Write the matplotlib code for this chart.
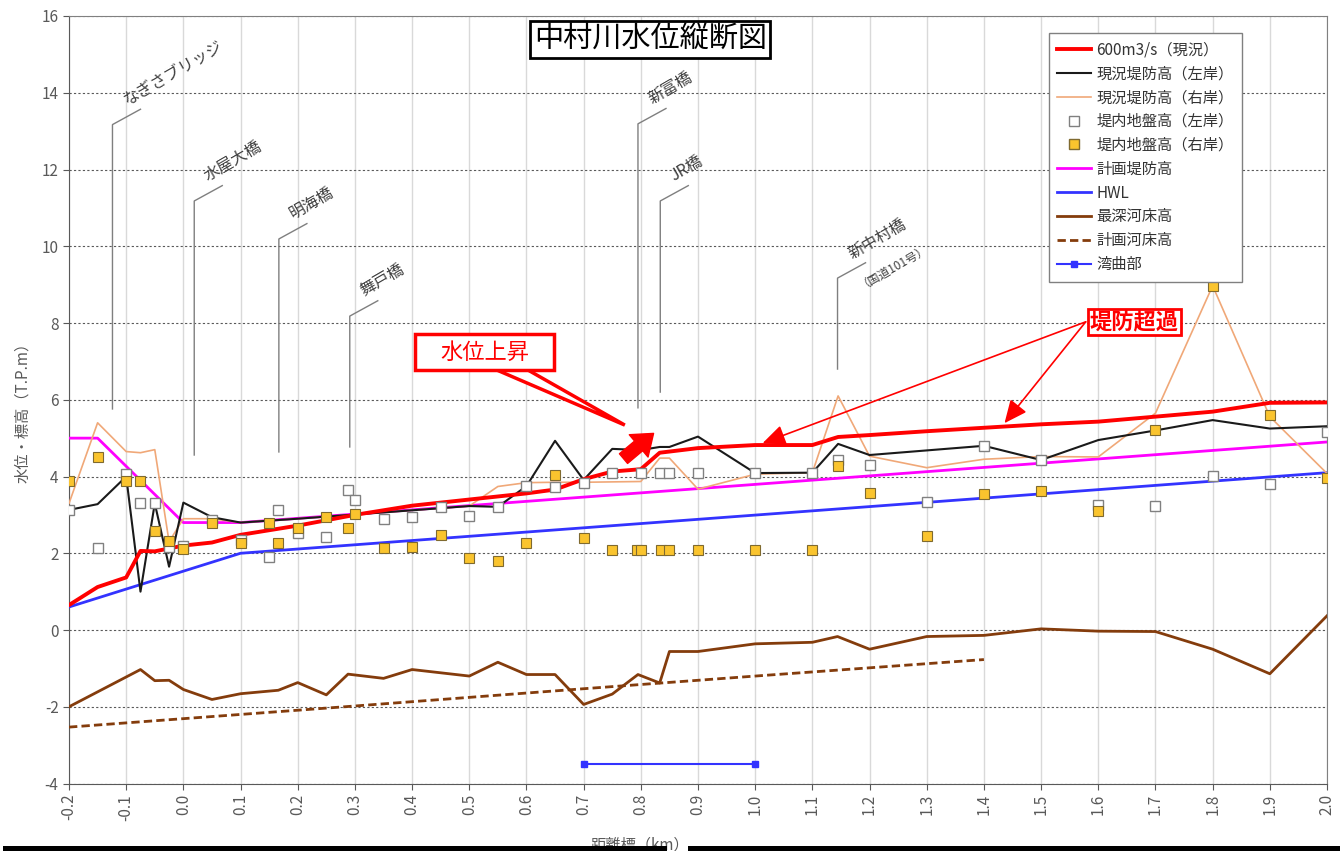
import matplotlib
matplotlib.use('Agg')
import matplotlib.pyplot as plt
from matplotlib.lines import Line2D
from matplotlib.patches import Polygon, Rectangle

plt.rcParams['font.family'] = ['Noto Sans CJK JP', 'DejaVu Sans']

# 600m3/s（現況）
q600_x = [-0.2, -0.15, -0.1, -0.075, -0.05, 0.0, 0.05, 0.1, 0.2, 0.3, 0.4, 0.5, 0.6, 0.65, 0.7, 0.75, 0.8,
          0.833, 0.85, 0.9, 1.0, 1.1, 1.145, 1.2, 1.3, 1.4, 1.5, 1.6, 1.7, 1.8, 1.9, 2.0]
q600_y = [0.65, 1.12, 1.37, 2.06, 2.05, 2.2, 2.28, 2.48, 2.72, 3.0, 3.24, 3.4, 3.56, 3.66, 3.93, 4.13, 4.19,
          4.62, 4.65, 4.74, 4.82, 4.82, 5.03, 5.08, 5.18, 5.27, 5.36, 5.43, 5.56, 5.69, 5.92, 5.93]

# 現況堤防高（左岸）
bank_l_x = [-0.2, -0.15, -0.1, -0.075, -0.05, -0.025, 0.0, 0.05, 0.1, 0.2, 0.3, 0.4, 0.5, 0.55, 0.6, 0.65,
            0.7, 0.75, 0.8, 0.833, 0.85, 0.9, 1.0, 1.1, 1.145, 1.2, 1.4, 1.5, 1.6, 1.7, 1.8, 1.9, 2.0]
bank_l_y = [3.13, 3.28, 4.0, 1.0, 3.3, 1.65, 3.32, 2.94, 2.8, 2.9, 3.01, 3.12, 3.23, 3.21, 3.75, 4.93,
            3.91, 4.72, 4.69, 4.77, 4.77, 5.04, 4.09, 4.1, 4.85, 4.56, 4.8, 4.43, 4.95, 5.2, 5.47, 5.25, 5.31]

# 現況堤防高（右岸）
bank_r_x = [-0.2, -0.15, -0.1, -0.075, -0.05, -0.025, 0.0, 0.05, 0.1, 0.2, 0.3, 0.4, 0.5, 0.55, 0.6, 0.65,
            0.7, 0.8, 0.833, 0.85, 0.9, 1.0, 1.1, 1.145, 1.2, 1.3, 1.4, 1.5, 1.6, 1.7, 1.8, 1.9, 2.0]
bank_r_y = [3.3, 5.4, 4.65, 4.62, 4.7, 2.3, 2.9, 2.9, 2.8, 2.9, 3.01, 3.12, 3.23, 3.74, 3.84, 3.85,
            3.85, 3.87, 4.48, 4.48, 3.67, 4.06, 4.1, 6.1, 4.53, 4.23, 4.45, 4.52, 4.51, 5.65, 8.97, 5.56, 4.08]

# 堤内地盤高（左岸）
ground_l_x = [-0.2, -0.15, -0.1, -0.075, -0.05, -0.025, 0.0, 0.05, 0.1, 0.15, 0.166, 0.2, 0.25, 0.288, 0.3,
              0.35, 0.4, 0.45, 0.5, 0.55, 0.6, 0.65, 0.7, 0.75, 0.8, 0.833, 0.85, 0.9, 1.0, 1.1, 1.145, 1.2,
              1.3, 1.4, 1.5, 1.6, 1.7, 1.8, 1.9, 2.0]
ground_l_y = [3.13, 2.15, 4.06, 3.3, 3.3, 2.17, 2.2, 2.87, 2.35, 1.91, 3.13, 2.52, 2.43, 3.65, 3.4,
              2.88, 2.95, 3.21, 2.97, 3.21, 3.75, 3.73, 3.84, 4.08, 4.08, 4.08, 4.08, 4.08, 4.08, 4.08, 4.43, 4.3,
              3.34, 4.8, 4.43, 3.26, 3.24, 4.01, 3.8, 5.17]

# 堤内地盤高（右岸）
ground_r_x = [-0.2, -0.15, -0.1, -0.075, -0.05, -0.025, 0.0, 0.05, 0.1, 0.15, 0.166, 0.2, 0.25, 0.288, 0.3,
              0.35, 0.4, 0.45, 0.5, 0.55, 0.6, 0.65, 0.7, 0.75, 0.793, 0.801, 0.835, 0.85, 0.9, 1.0, 1.1,
              1.145, 1.2, 1.3, 1.4, 1.5, 1.6, 1.7, 1.8, 1.9, 2.0]
ground_r_y = [3.89, 4.52, 3.89, 3.87, 2.59, 2.33, 2.11, 2.78, 2.28, 2.8, 2.28, 2.65, 2.95, 2.67, 3.02,
              2.13, 2.17, 2.48, 1.88, 1.81, 2.28, 4.04, 2.41, 2.08, 2.08, 2.08, 2.08, 2.08, 2.08, 2.08, 2.08,
              4.28, 3.56, 2.46, 3.54, 3.62, 3.11, 5.2, 8.97, 5.6, 3.95]

# 計画堤防高
plan_bank_x = [-0.2, -0.15, 0.0, 0.1, 2.0]
plan_bank_y = [5.0, 5.0, 2.8, 2.8, 4.9]

# HWL
hwl_x = [-0.2, 0.1, 2.0]
hwl_y = [0.6, 2.0, 4.1]

# 最深河床高
bed_x = [-0.2, -0.075, -0.05, -0.025, 0.0, 0.05, 0.1, 0.166, 0.2, 0.25, 0.288, 0.35, 0.4, 0.5, 0.55, 0.6,
         0.65, 0.7, 0.75, 0.795, 0.833, 0.85, 0.9, 1.0, 1.1, 1.144, 1.2, 1.3, 1.4, 1.5, 1.6, 1.7, 1.8, 1.9, 2.0]
bed_y = [-2.0, -1.03, -1.32, -1.31, -1.55, -1.81, -1.66, -1.57, -1.37, -1.69, -1.15, -1.26, -1.03, -1.2,
         -0.84, -1.16, -1.16, -1.94, -1.67, -1.16, -1.38, -0.56, -0.56, -0.36, -0.32, -0.17, -0.5, -0.17,
         -0.14, 0.03, -0.03, -0.04, -0.5, -1.14, 0.37]

# 計画河床高
plan_bed_x = [-0.2, 0.3, 0.7, 1.0, 1.4]
plan_bed_y = [-2.53, -1.98, -1.53, -1.2, -0.77]

# 湾曲部
bend_x = [0.7, 1.0]
bend_y = [-3.5, -3.5]

# 橋の位置
bridge_names = ['なぎさブリッジ', '水屋大橋', '明海橋', '舞戸橋', '新富橋', 'JR橋', '新中村橋']
bridge_x = [-0.124, 0.019, 0.167, 0.291, 0.795, 0.834, 1.144]
bridge_bottom = [5.76, 4.56, 4.64, 4.77, 5.79, 6.2, 6.8]
bridge_top = [13.17, 11.18, 10.19, 8.18, 13.19, 11.18, 9.17]

x_ticks = [round(-0.2 + 0.1 * i, 1) for i in range(23)]
y_ticks = list(range(-4, 17, 2))

fig = plt.figure(figsize=(13.4, 8.51), dpi=100)
ax = fig.add_axes([0.0515, 0.0793, 0.9388, 0.9019])
ax.set_xlim(-0.2, 2.0)
ax.set_ylim(-4, 16)

# グリッド
for xv in x_ticks:
    ax.axvline(xv, color='#d9d9d9', lw=1, zorder=0)
for yv in y_ticks:
    ax.axhline(yv, color='#595959', lw=0.8, linestyle=(0, (2, 2)), zorder=0)

ax.set_xticks(x_ticks)
ax.set_xticklabels(['{:.1f}'.format(v) for v in x_ticks], rotation=90)
ax.set_yticks(y_ticks)
ax.set_yticklabels([str(v) for v in y_ticks])
ax.tick_params(axis='both', colors='#595959', labelsize=11, length=4, direction='out')
for sp in ax.spines.values():
    sp.set_color('#808080')
ax.spines['left'].set_color('#595959')
ax.spines['bottom'].set_color('#595959')

# 系列
ax.plot(bed_x, bed_y, color='#843C0C', lw=2, zorder=3)
ax.plot(plan_bed_x, plan_bed_y, color='#843C0C', lw=2, linestyle=(0, (3, 1.5)), zorder=3)
ax.plot(bend_x, bend_y, color='#3333FF', lw=1.5, marker='s', ms=5, zorder=3)
ax.plot(hwl_x, hwl_y, color='#3333FF', lw=2, zorder=3)
ax.plot(plan_bank_x, plan_bank_y, color='#FF00FF', lw=2, zorder=3)
ax.plot(bank_r_x, bank_r_y, color='#F0A878', lw=1.2, zorder=3)
ax.plot(bank_l_x, bank_l_y, color='#1a1a1a', lw=1.5, zorder=3)
ax.plot(q600_x, q600_y, color='#FF0000', lw=2.8, zorder=4)
ax.plot(ground_l_x, ground_l_y, linestyle='none', marker='s', ms=7.5, mfc='white', mec='#808080', mew=1,
        zorder=5)
ax.plot(ground_r_x, ground_r_y, linestyle='none', marker='s', ms=7.5, mfc='#FAC42E', mec='#7f6a30', mew=0.8,
        zorder=5)

# 橋の注記
for name, bx, yb, yt in zip(bridge_names, bridge_x, bridge_bottom, bridge_top):
    ax.plot([bx, bx, bx + 0.049], [yb, yt, yt + 0.40], color='#7f7f7f', lw=1, zorder=2)
    ax.text(bx + 0.028, yt + 0.42, name, rotation=30, rotation_mode='anchor', ha='left', va='bottom',
            fontsize=11.5, color='#404040')
ax.text(1.186, 8.86, '（国道101号）', rotation=30, rotation_mode='anchor', ha='left', va='bottom',
        fontsize=8.5, color='#404040')

# タイトル
ax.text(0.462, 0.969, '中村川水位縦断図', transform=ax.transAxes, ha='center', va='center', fontsize=21,
        color='black', bbox=dict(boxstyle='square,pad=0.12', fc='white', ec='black', lw=2), zorder=6)

# 水位上昇
ax.add_patch(Polygon([(0.548, 6.776), (0.6025, 6.776), (0.772, 5.34)], closed=True, fc='white', ec='red',
                     lw=2.5, zorder=6))
ax.add_patch(Rectangle((0.405, 6.776), 0.243, 0.938, fc='white', ec='red', lw=2.5, zorder=7))
ax.text(0.5265, 7.245, '水位上昇', ha='center', va='center', fontsize=16, color='red', zorder=8)
ax.annotate('', xy=(0.826, 5.17), xytext=(0.766, 4.42),
            arrowprops=dict(arrowstyle='simple,head_width=1.5,head_length=1.0,tail_width=0.65',
                            fc='red', ec='red', mutation_scale=14), zorder=7)

# 堤防超過
ax.text(1.663, 8.03, '堤防超過', ha='center', va='center', fontsize=16, color='red', weight='bold',
        bbox=dict(boxstyle='square,pad=0.08', fc='white', ec='red', lw=2), zorder=8)
for tip in [(1.013, 4.87), (1.436, 5.39)]:
    ax.annotate('', xy=tip, xytext=(1.578, 8.03),
                arrowprops=dict(arrowstyle='-|>,head_length=1.0,head_width=0.45', color='red', lw=1.2,
                                shrinkA=0, shrinkB=0, mutation_scale=14), zorder=7)

# 凡例
handles = [
    Line2D([], [], color='#FF0000', lw=2.8),
    Line2D([], [], color='#1a1a1a', lw=1.5),
    Line2D([], [], color='#F0A878', lw=1.2),
    Line2D([], [], linestyle='none', marker='s', ms=7, mfc='white', mec='#808080'),
    Line2D([], [], linestyle='none', marker='s', ms=7, mfc='#FAC42E', mec='#7f6a30'),
    Line2D([], [], color='#FF00FF', lw=2),
    Line2D([], [], color='#3333FF', lw=2),
    Line2D([], [], color='#843C0C', lw=2),
    Line2D([], [], color='#843C0C', lw=2, linestyle=(0, (3, 1.5))),
    Line2D([], [], color='#3333FF', lw=1.5, marker='s', ms=5),
]
labels = ['600m3/s（現況）', '現況堤防高（左岸）', '現況堤防高（右岸）', '堤内地盤高（左岸）', '堤内地盤高（右岸）',
          '計画堤防高', 'HWL', '最深河床高', '計画河床高', '湾曲部']
leg = ax.legend(handles, labels, loc='upper left', bbox_to_anchor=(0.779, 0.978), fontsize=11,
                frameon=True, fancybox=False, edgecolor='#808080', framealpha=1, borderpad=0.55,
                labelspacing=0.45, handlelength=2.2, handletextpad=0.35, numpoints=1, borderaxespad=0)
leg.get_frame().set_linewidth(1)
leg.set_zorder(9)
for t in leg.get_texts():
    t.set_color('#333333')

# 軸ラベル
ax.set_ylabel('水位・標高（T.P.m）', fontsize=11, color='#595959')
ax.yaxis.set_label_coords(-0.030, 0.488)
fig.text(640 / 1340, 1 - 845 / 851, '距離標（km）', ha='center', va='center', fontsize=11, color='#595959')

# 下端の枠
fig.add_artist(Rectangle((3 / 1340, 0), 664 / 1340, 5.5 / 851, transform=fig.transFigure, fc='black',
                         ec='none', zorder=20))
fig.add_artist(Rectangle((688 / 1340, 0), 652 / 1340, 5.5 / 851, transform=fig.transFigure, fc='black',
                         ec='none', zorder=20))

fig.savefig('out.png', dpi=100)
